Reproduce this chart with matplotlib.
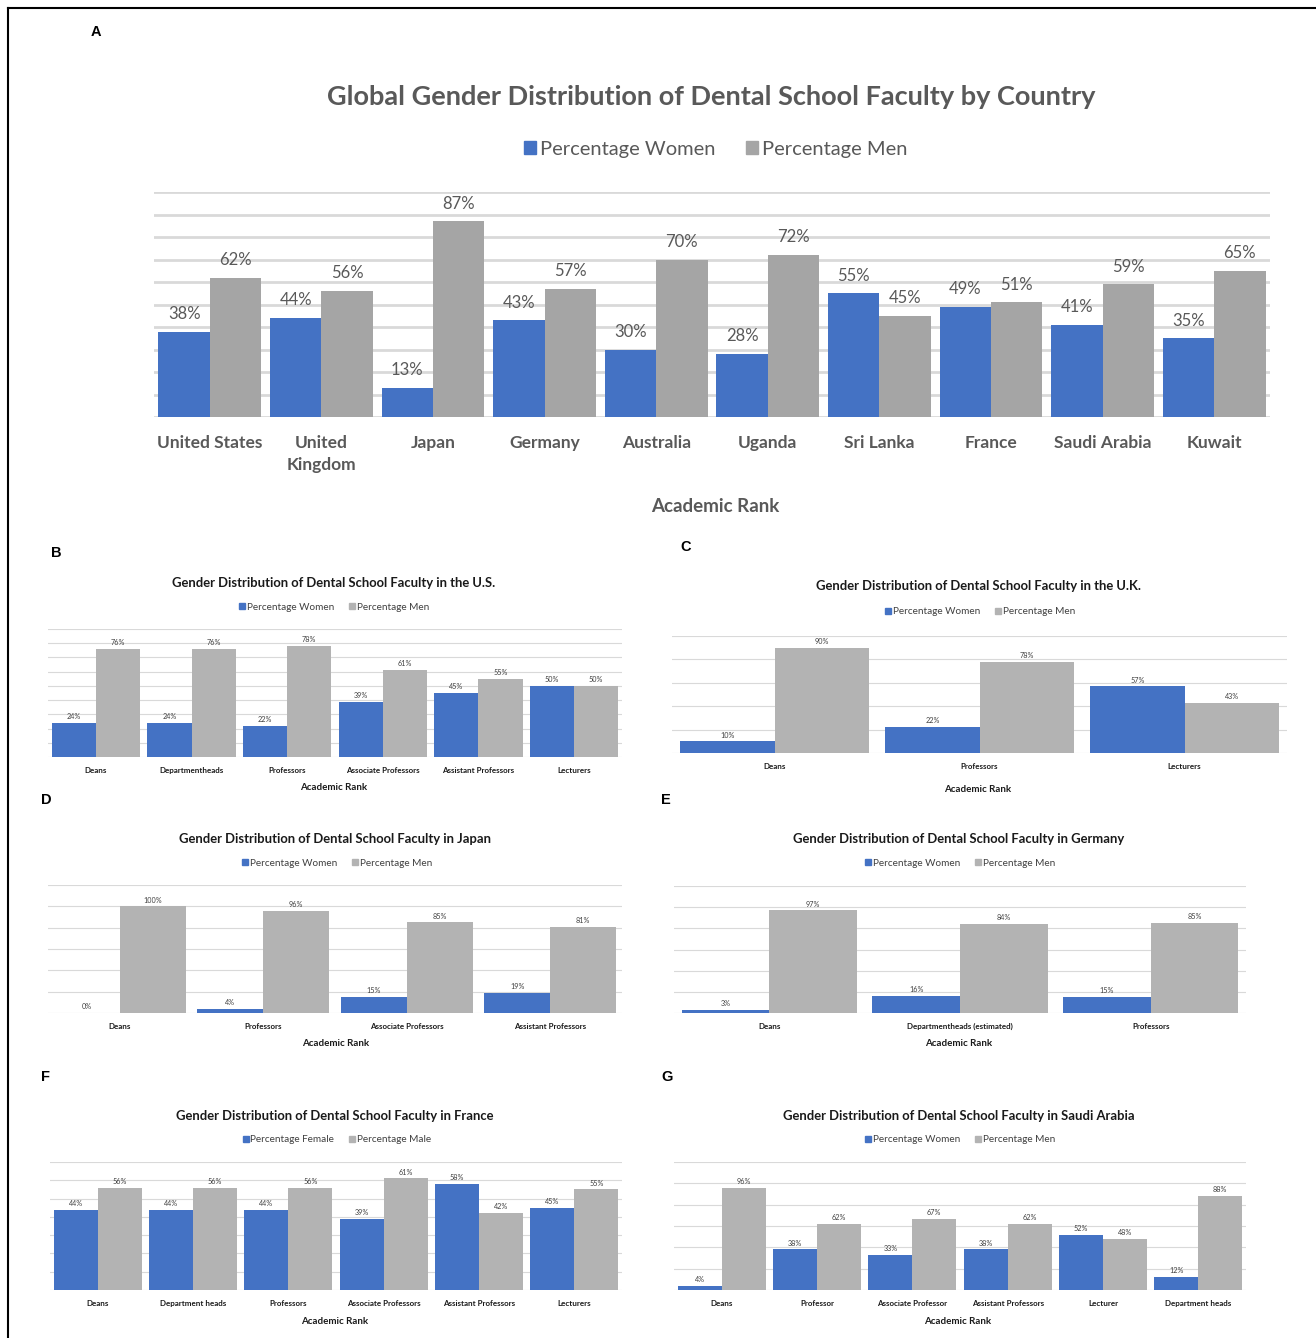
import matplotlib.pyplot as plt
from matplotlib.lines import Line2D
from matplotlib.patches import Patch

W, H = 1316, 1338

BLUE = '#4472C4'
GREY_A = '#A5A5A5'
GREY = '#B3B3B3'
GRID = '#D9D9D9'
TXT = '#595959'

# panel A: all countries
countries = ['United States', 'United\nKingdom', 'Japan', 'Germany', 'Australia',
             'Uganda', 'Sri Lanka', 'France', 'Saudi Arabia', 'Kuwait']
women_all = [38, 44, 13, 43, 30, 28, 55, 49, 41, 35]
men_all = [62, 56, 87, 57, 70, 72, 45, 51, 59, 65]

# panels B-G: by academic rank
us_ranks = ['Deans', 'Departmentheads', 'Professors', 'Associate Professors',
            'Assistant Professors', 'Lecturers']
us_women = [24, 24, 22, 39, 45, 50]
us_men = [76, 76, 78, 61, 55, 50]

uk_ranks = ['Deans', 'Professors', 'Lecturers']
uk_women = [10, 22, 57]
uk_men = [90, 78, 43]

jp_ranks = ['Deans', 'Professors', 'Associate Professors', 'Assistant Professors']
jp_women = [0, 4, 15, 19]
jp_men = [100, 96, 85, 81]

de_ranks = ['Deans', 'Departmentheads (estimated)', 'Professors']
de_women = [3, 16, 15]
de_men = [97, 84, 85]

fr_ranks = ['Deans', 'Department heads', 'Professors', 'Associate Professors',
            'Assistant Professors', 'Lecturers']
fr_women = [44, 44, 44, 39, 58, 45]
fr_men = [56, 56, 56, 61, 42, 55]

sa_ranks = ['Deans', 'Professor', 'Associate Professor', 'Assistant Professors',
            'Lecturer', 'Department heads']
sa_women = [4, 38, 33, 38, 52, 12]
sa_men = [96, 62, 67, 62, 48, 88]

plt.rcParams['font.family'] = ['Lato', 'DejaVu Sans']

fig = plt.figure(figsize=(W / 100, H / 100), dpi=100)


def fx(x):
    return x / W


def fy(y):
    return 1 - y / H


def px_axes(x0, x1, ytop, ybot):
    return fig.add_axes([fx(x0), fy(ybot), (x1 - x0) / W, (ybot - ytop) / H])


def bar_panel(ax, cats, women, men, ymax, step, grey, grid_lw, tick_fs,
              tick_color, tick_pad, val_fs, val_color, val_off):
    n = len(cats)
    w = 0.46
    xs = list(range(n))
    bw = ax.bar([x - w / 2 for x in xs], women, w, color=BLUE, zorder=2)
    bm = ax.bar([x + w / 2 for x in xs], men, w, color=grey, zorder=2)
    for bars, vals in ((bw, women), (bm, men)):
        for b, v in zip(bars, vals):
            ax.annotate(f'{v}%', (b.get_x() + b.get_width() / 2, v),
                        xytext=(0, val_off), textcoords='offset points',
                        ha='center', va='bottom', fontsize=val_fs,
                        color=val_color)
    ax.set_xlim(-0.5, n - 0.5)
    ax.set_ylim(0, ymax)
    ax.set_yticks(range(0, ymax + 1, step))
    ax.yaxis.grid(True, color=GRID, lw=grid_lw, zorder=0)
    ax.set_axisbelow(True)
    ax.set_xticks(xs)
    ax.set_xticklabels(cats, fontsize=tick_fs, color=tick_color,
                       fontweight='bold', linespacing=1.45)
    ax.tick_params(axis='both', length=0, labelleft=False, pad=tick_pad)
    for s in ax.spines.values():
        s.set_visible(False)
    ax.patch.set_alpha(0)


def legend(x, y, fs, labels, grey, color):
    handles = [Patch(color=BLUE), Patch(color=grey)]
    fig.legend(handles, labels, loc='center', bbox_to_anchor=(fx(x), fy(y)),
               ncol=2, frameon=False, fontsize=fs, labelcolor=color,
               handlelength=0.6, handleheight=0.6, handletextpad=0.2,
               columnspacing=1.5, borderaxespad=0, borderpad=0)


def letter(x, y, s):
    fig.text(fx(x), fy(y), s, ha='center', va='center', fontsize=10.5,
             fontweight='bold', family='Liberation Sans')


# frame lines on top and left
fig.add_artist(Line2D([fx(8), 1], [fy(8), fy(8)], color='black', lw=1.5))
fig.add_artist(Line2D([fx(8), fx(8)], [fy(8), 0], color='black', lw=1.5))

# ---- A ----
letter(96, 32, 'A')
fig.text(fx(711), fy(97), 'Global Gender Distribution of Dental School Faculty by Country',
         ha='center', va='center', fontsize=19.5, fontweight='bold', color=TXT)
legend(716, 149, 14.5, ['Percentage Women', 'Percentage Men'], GREY_A, TXT)
axA = px_axes(154, 1270, 192, 417)
bar_panel(axA, countries, women_all, men_all, 100, 10, GREY_A, 2.0,
          12.5, TXT, 13, 12, TXT, 7)
fig.text(fx(715), fy(507), 'Academic Rank', ha='center', va='center',
         fontsize=13.5, fontweight='bold', color=TXT)

# ---- B-G ----
small = [
    ('B', (56, 553), us_ranks, us_women, us_men, 'the U.S.',
     (48, 622, 629, 757), 90, 10, (334, 583), (334, 607), (334, 788),
     ['Percentage Women', 'Percentage Men']),
    ('C', (686, 547), uk_ranks, uk_women, uk_men, 'the U.K.',
     (672, 1287, 636, 753), 100, 20, (978, 586), (980, 612), (978, 789),
     ['Percentage Women', 'Percentage Men']),
    ('D', (46, 800), jp_ranks, jp_women, jp_men, 'Japan',
     (48, 622, 885, 1013), 120, 20, (335, 839), (337, 863), (336, 1044),
     ['Percentage Women', 'Percentage Men']),
    ('E', (666, 800), de_ranks, de_women, de_men, 'Germany',
     (674, 1246, 886, 1013), 120, 20, (959, 839), (960, 863), (959, 1044),
     ['Percentage Women', 'Percentage Men']),
    ('F', (46, 1077), fr_ranks, fr_women, fr_men, 'France',
     (50, 622, 1162, 1290), 70, 10, (335, 1116), (337, 1140), (335, 1321),
     ['Percentage Female', 'Percentage Male']),
    ('G', (667, 1077), sa_ranks, sa_women, sa_men, 'Saudi Arabia',
     (674, 1246, 1162, 1290), 120, 20, (959, 1116), (960, 1140), (958, 1321),
     ['Percentage Women', 'Percentage Men']),
]

for (lab, lpos, cats, wv, mv, place, box, ymax, step, tpos, lgpos, xlpos,
     lg_labels) in small:
    letter(*lpos, lab)
    fig.text(fx(tpos[0]), fy(tpos[1]),
             f'Gender Distribution of Dental School Faculty in {place}',
             ha='center', va='center', fontsize=9.4, fontweight='bold',
             color='#1a1a1a')
    legend(lgpos[0], lgpos[1], 7.2, lg_labels, GREY, '#404040')
    ax = px_axes(*box)
    bar_panel(ax, cats, wv, mv, ymax, step, GREY, 0.8,
              5.8, '#1a1a1a', 7, 5.2, '#404040', 2)
    fig.text(fx(xlpos[0]), fy(xlpos[1]), 'Academic Rank', ha='center',
             va='center', fontsize=7, fontweight='bold', color='#1a1a1a')

fig.savefig('out.png', dpi=100)
